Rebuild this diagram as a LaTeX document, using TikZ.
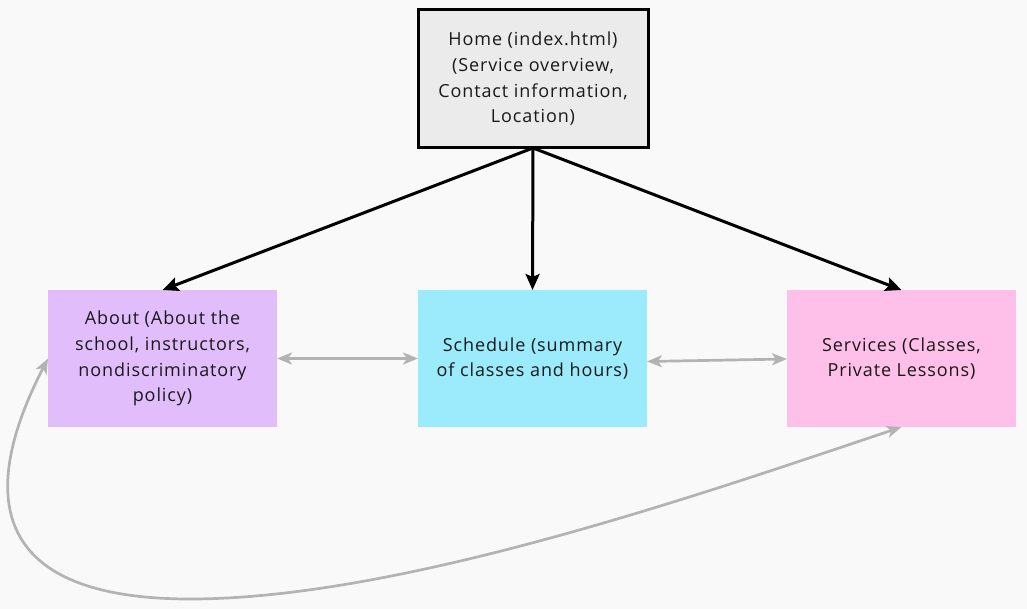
\documentclass[tikz,border=0pt]{standalone}
\usepackage{fontspec}
\setmainfont{Open Sans}[LetterSpace=5]
\usetikzlibrary{arrows.meta}
\definecolor{bgcol}{HTML}{F9F9F9}
\definecolor{homefill}{HTML}{EBEBEB}
\definecolor{aboutfill}{HTML}{E1BEFB}
\definecolor{schedfill}{HTML}{9BEBFC}
\definecolor{servfill}{HTML}{FEC0E9}
\definecolor{linkgray}{HTML}{B3B3B3}
\begin{document}
\begin{tikzpicture}[x=1pt,y=-1pt,
  box/.style={minimum width=229pt,minimum height=137pt,inner sep=0pt,outer sep=0pt,
    align=center,font=\fontsize{18}{25.7}\selectfont,anchor=north west,text=black!90},
  mainarrow/.style={draw=black,line width=3pt,-{Stealth[length=16pt,width=14pt,inset=3pt]}},
  linkarrow/.style={draw=linkgray,line width=2.7pt,
    {Stealth[length=15pt,width=12pt,inset=4pt]}-{Stealth[length=15pt,width=12pt,inset=4pt]}}]
\useasboundingbox (0,0) rectangle (1027,609);
\fill[bgcol] (0,0) rectangle (1027,609);
\node[box,fill=homefill,draw=black,line width=3pt,minimum width=230pt,minimum height=138pt] (home) at (418,10)
  {Home (index.html)\\(Service overview,\\Contact information,\\Location)};
\node[box,fill=aboutfill] (about) at (48,290)
  {About (About the\\school, instructors,\\nondiscriminatory\\policy)};
\node[box,fill=schedfill] (sched) at (418,290)
  {Schedule (summary\\of classes and hours)};
\node[box,fill=servfill] (serv) at (787,290)
  {Services (Classes,\\Private Lessons)};
\coordinate (low) at (190,599);
\draw[mainarrow] (home.south) -- (about.north);
\draw[mainarrow] (home.south) -- (sched.north);
\draw[mainarrow] (home.south) -- (serv.north);
\draw[linkarrow] (about.east) -- (sched.west);
\draw[linkarrow] ([yshift=-3pt]sched.east) -- ([yshift=-0.5pt]serv.west);
\draw[linkarrow] (about.west) .. controls (-25,500) and (-5,599) .. (low)
  .. controls (400,599) and (702,494) .. (serv.south);
\end{tikzpicture}
\end{document}
